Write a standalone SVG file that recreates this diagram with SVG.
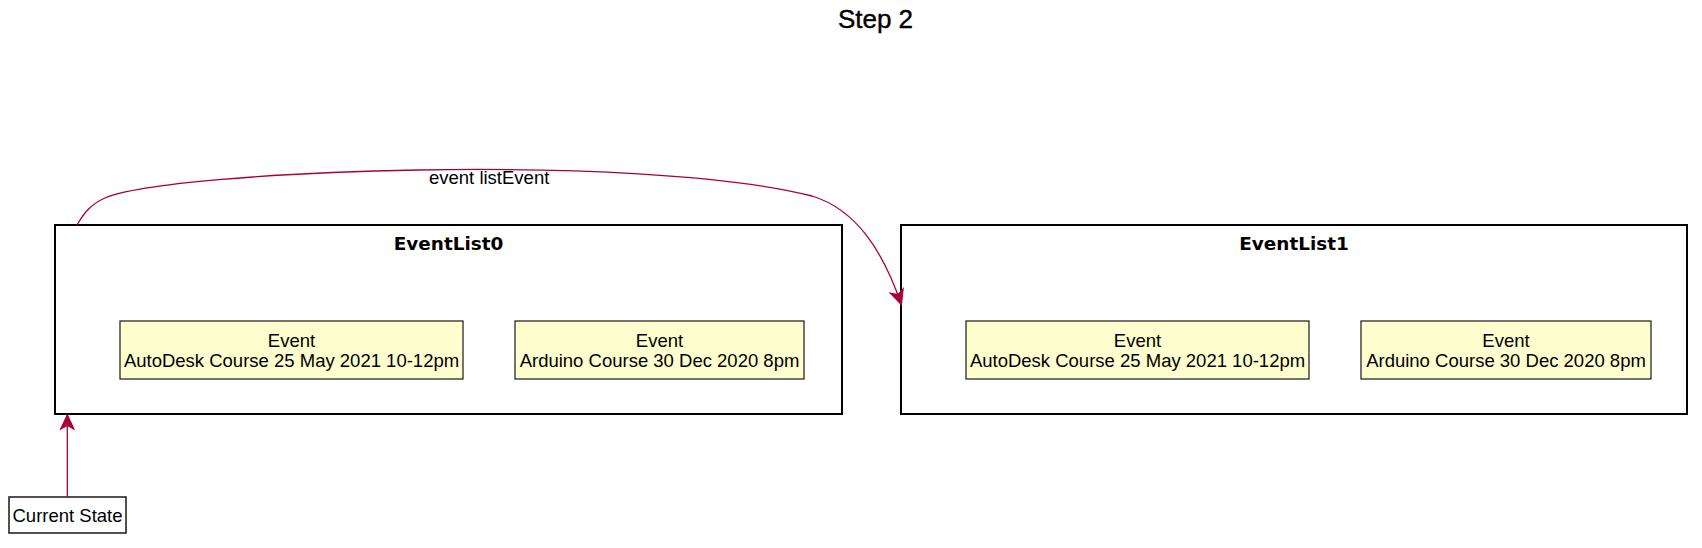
<svg xmlns="http://www.w3.org/2000/svg" width="1702" height="548" viewBox="0 0 1702 548">
<style>
text{font-family:"Liberation Sans",Arial,sans-serif;fill:#000}
.title{font-size:26px;text-anchor:middle}
.frame{fill:#fff;stroke:#000;stroke-width:2}
.ftitle{font-family:"DejaVu Sans",sans-serif;font-weight:bold;font-size:18.4px;text-anchor:middle}
.ev{fill:#FEFECE;stroke:#181818;stroke-width:1.2}
.evt{font-size:18.5px;text-anchor:middle}
.cs{fill:#fff;stroke:#181818;stroke-width:1.5}
.conn{fill:none;stroke:#A80036;stroke-width:1.3}
.lbl{font-size:18.5px}
</style>
<defs>
<marker id="arr" markerUnits="userSpaceOnUse" orient="auto" refX="0" refY="0" markerWidth="20" markerHeight="20" overflow="visible">
<path d="M-15,-7 L0,0 L-15,7 L-11,0 Z" fill="#A80036" stroke="#A80036" stroke-width="1"/>
</marker>
</defs>
<rect width="1702" height="548" fill="#fff"/>
<text class="title" x="875.5" y="28" stroke="#000" stroke-width="0.4">Step 2</text>
<g id="EventList0">
<rect class="frame" x="55" y="225" width="787" height="189"/>
<text class="ftitle" x="448.5" y="249.5">EventList0</text>
<g id="EventList0_event1">
<rect class="ev" x="120" y="321" width="343" height="58"/>
<text class="evt" x="291.5" y="347">Event</text>
<text class="evt" x="291.5" y="367.3">AutoDesk Course 25 May 2021 10-12pm</text>
</g>
<g id="EventList0_event2">
<rect class="ev" x="515" y="321" width="289" height="58"/>
<text class="evt" x="659.5" y="347">Event</text>
<text class="evt" x="659.5" y="367.3">Arduino Course 30 Dec 2020 8pm</text>
</g>
</g>
<g id="EventList1">
<rect class="frame" x="901" y="225" width="786" height="189"/>
<text class="ftitle" x="1294" y="249.5">EventList1</text>
<g id="EventList1_event1">
<rect class="ev" x="966" y="321" width="343" height="58"/>
<text class="evt" x="1137.5" y="347">Event</text>
<text class="evt" x="1137.5" y="367.3">AutoDesk Course 25 May 2021 10-12pm</text>
</g>
<g id="EventList1_event2">
<rect class="ev" x="1361" y="321" width="290" height="58"/>
<text class="evt" x="1506" y="347">Event</text>
<text class="evt" x="1506" y="367.3">Arduino Course 30 Dec 2020 8pm</text>
</g>
</g>
<g id="CurrentState">
<rect class="cs" x="9" y="497" width="117" height="36"/>
<text class="evt" x="67.5" y="521.7">Current State</text>
</g>
<g id="connectors">
<path class="conn" d="M77,225 C84,213 91,204 105,198 C170,170 640,152 812,196 C858,210 884,254 901.5,305" marker-end="url(#arr)"/>
<text class="lbl" x="429" y="184">event listEvent</text>
<path class="conn" d="M67.3,497 L67.3,414.5" marker-end="url(#arr)"/>
</g>
</svg>
